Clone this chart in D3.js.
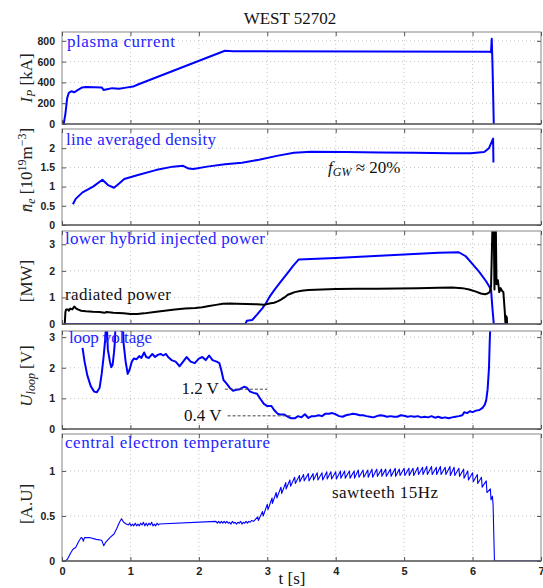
<!DOCTYPE html>
<html>
<head>
<meta charset="utf-8">
<script src="https://cdn.jsdelivr.net/npm/d3@7"></script>
<style>
  body { margin: 0; background: #fff; }
  .serif { font-family: "Liberation Serif", "DejaVu Serif", "Times New Roman", serif; }
  .tick-label { font-family: "Liberation Sans", Arial, sans-serif; font-weight: bold; font-size: 10.5px; fill: #222; }
</style>
</head>
<body>
<svg id="chart" width="543" height="588"></svg>
<script>
// time axis
const xTicks = [0, 1, 2, 3, 4, 5, 6, 7];

// [t (s), value]
const plasmaCurrent = [
  [0, 0], [0.025, 0], [0.05, 100], [0.076, 250], [0.1, 300], [0.137, 315], [0.177, 305],
  [0.228, 325], [0.29, 350], [0.354, 355], [0.58, 352], [0.607, 328], [0.66, 335],
  [0.733, 345], [0.835, 340], [0.936, 350], [1.04, 360], [1.11, 380], [2.38, 705],
  [2.5, 700], [4.5, 698], [6.25, 695], [6.27, 690], [6.28, 820], [6.29, 600], [6.31, 0]
];

const density = [
  [0.16, 0.54], [0.2, 0.68], [0.3, 0.85], [0.455, 1.0], [0.59, 1.18], [0.68, 1.03],
  [0.76, 0.97], [0.835, 1.08], [0.91, 1.2], [1.11, 1.3], [1.37, 1.43], [1.62, 1.52],
  [1.77, 1.54], [1.85, 1.47], [1.92, 1.46], [2.12, 1.52], [2.38, 1.58], [2.63, 1.62],
  [2.88, 1.7], [3.14, 1.8], [3.39, 1.88], [3.64, 1.91], [4.15, 1.9], [4.65, 1.89],
  [5.16, 1.88], [5.67, 1.87], [5.97, 1.87], [6.17, 1.9], [6.24, 2.0], [6.30, 2.25],
  [6.305, 1.63]
];

const lhPower = [
  [0.04, 0], [2.68, 0], [2.70, 0.12], [2.78, 0.15], [2.85, 0.35], [2.93, 0.6],
  [2.98, 0.78], [3.04, 1.05], [3.11, 1.3], [3.2, 1.6], [3.29, 1.9], [3.38, 2.2],
  [3.46, 2.43], [4.0, 2.48], [4.5, 2.55], [5.0, 2.62], [5.5, 2.68], [5.8, 2.7],
  [5.9, 2.55], [6.0, 2.25], [6.1, 1.95], [6.2, 1.6], [6.27, 1.3], [6.29, 0.6],
  [6.31, 0], [6.5, 0]
];

const radPower = [
  [0.04, 0], [0.05, 0.45], [0.06, 0.55], [0.09, 0.55], [0.1, 0.5], [0.12, 0.58],
  [0.15, 0.55], [0.18, 0.66], [0.2, 0.6], [0.23, 0.55], [0.28, 0.5], [0.35, 0.48],
  [0.45, 0.46], [0.55, 0.45], [0.62, 0.42], [0.65, 0.45], [0.75, 0.42], [0.9, 0.4],
  [1.0, 0.38], [1.1, 0.38], [1.2, 0.4], [1.35, 0.45], [1.5, 0.5], [1.65, 0.55],
  [1.8, 0.58], [1.95, 0.6], [2.05, 0.63], [2.15, 0.68], [2.25, 0.72], [2.35, 0.76],
  [2.45, 0.77], [2.55, 0.76], [2.7, 0.75], [2.85, 0.74], [2.95, 0.72], [3.0, 0.75],
  [3.05, 0.78], [3.1, 0.8], [3.15, 0.85], [3.2, 0.92], [3.25, 1.0], [3.3, 1.1],
  [3.35, 1.15], [3.4, 1.2], [3.5, 1.25], [3.6, 1.28], [3.8, 1.3], [4.0, 1.32],
  [4.3, 1.33], [4.6, 1.33], [4.9, 1.34], [5.2, 1.35], [5.5, 1.36], [5.7, 1.37],
  [5.85, 1.35], [5.95, 1.3], [6.05, 1.22], [6.12, 1.15], [6.18, 1.12], [6.22, 1.15],
  [6.25, 1.2], [6.27, 1.4], [6.29, 3.6], [6.31, 3.6], [6.32, 1.3], [6.33, 3.6],
  [6.34, 3.6], [6.35, 1.5], [6.37, 1.65], [6.39, 1.2], [6.41, 1.35], [6.43, 1.25],
  [6.45, 1.2], [6.47, 0.5], [6.48, 0.05], [6.49, 0.3], [6.5, 0.25], [6.505, 0]
];

const loopVoltage = [
  [0.30, 2.65], [0.33, 2.2], [0.37, 1.75], [0.42, 1.4], [0.47, 1.22], [0.51, 1.2],
  [0.55, 1.35], [0.58, 1.8], [0.61, 2.4], [0.63, 2.9], [0.645, 3.4], [0.655, 3.4],
  [0.67, 2.6], [0.70, 2.2], [0.72, 2.02], [0.74, 2.1], [0.76, 2.5], [0.775, 2.9],
  [0.78, 3.4], [0.89, 3.4], [0.90, 2.8], [0.93, 2.2], [0.96, 1.8], [0.99, 1.95],
  [1.02, 2.2], [1.05, 2.3], [1.09, 2.28], [1.13, 2.38], [1.16, 2.32], [1.20, 2.5],
  [1.23, 2.35], [1.27, 2.32], [1.32, 2.45], [1.36, 2.35], [1.40, 2.42], [1.44, 2.45],
  [1.48, 2.4], [1.52, 2.45], [1.55, 2.35], [1.60, 2.25], [1.66, 2.2], [1.72, 2.05],
  [1.77, 2.2], [1.82, 2.35], [1.88, 2.2], [1.94, 2.15], [2.00, 2.3], [2.05, 2.35],
  [2.10, 2.25], [2.15, 2.4], [2.20, 2.25], [2.26, 2.2], [2.30, 2.15], [2.33, 1.9],
  [2.36, 1.6], [2.40, 1.5], [2.45, 1.35], [2.50, 1.25], [2.55, 1.28], [2.60, 1.3],
  [2.66, 1.38], [2.70, 1.35], [2.75, 1.22], [2.80, 1.18], [2.85, 1.15], [2.90, 0.98],
  [2.95, 0.82], [3.00, 0.75], [3.06, 0.75], [3.10, 0.62], [3.15, 0.5], [3.20, 0.47],
  [3.25, 0.47], [3.30, 0.4], [3.35, 0.35], [3.40, 0.35], [3.45, 0.42], [3.50, 0.38],
  [3.55, 0.48], [3.60, 0.36], [3.65, 0.42], [3.70, 0.42], [3.75, 0.45], [3.80, 0.42],
  [3.85, 0.5], [3.90, 0.5], [3.95, 0.52], [4.00, 0.48], [4.05, 0.42], [4.10, 0.4],
  [4.15, 0.45], [4.20, 0.47], [4.25, 0.5], [4.30, 0.48], [4.35, 0.45], [4.40, 0.45],
  [4.45, 0.42], [4.50, 0.4], [4.55, 0.38], [4.60, 0.42], [4.65, 0.45], [4.70, 0.43],
  [4.75, 0.4], [4.80, 0.42], [4.85, 0.4], [4.90, 0.4], [4.95, 0.45], [5.00, 0.43],
  [5.05, 0.4], [5.10, 0.42], [5.15, 0.4], [5.20, 0.42], [5.25, 0.38], [5.30, 0.4],
  [5.35, 0.38], [5.40, 0.42], [5.45, 0.37], [5.50, 0.4], [5.55, 0.36], [5.60, 0.38],
  [5.65, 0.35], [5.70, 0.38], [5.75, 0.4], [5.80, 0.42], [5.85, 0.45], [5.88, 0.55],
  [5.92, 0.52], [5.96, 0.58], [6.00, 0.55], [6.05, 0.6], [6.10, 0.62], [6.15, 0.7],
  [6.18, 0.8], [6.20, 0.95], [6.22, 1.3], [6.24, 2.0], [6.25, 2.8], [6.26, 3.4]
];

const electronTemp = [
  [0, 0], [0.05, 0], [0.08, 0.02], [0.12, 0.08], [0.16, 0.13], [0.2, 0.15], [0.24, 0.21],
  [0.28, 0.26], [0.3, 0.25], [0.31, 0.22], [0.33, 0.26], [0.4, 0.26], [0.5, 0.24],
  [0.58, 0.23], [0.6, 0.19], [0.61, 0.17], [0.64, 0.21], [0.7, 0.26], [0.76, 0.3],
  [0.8, 0.36], [0.84, 0.43], [0.87, 0.47], [0.9, 0.43], [0.94, 0.41], [0.97, 0.40],
  [0.99, 0.42], [1.01, 0.39], [1.03, 0.41], [1.05, 0.39], [1.07, 0.42], [1.09, 0.39],
  [1.11, 0.41], [1.13, 0.39], [1.15, 0.42], [1.17, 0.40], [1.19, 0.43], [1.21, 0.39],
  [1.23, 0.42], [1.25, 0.39], [1.27, 0.42], [1.29, 0.40], [1.31, 0.43], [1.33, 0.39],
  [1.35, 0.41], [1.37, 0.39], [1.39, 0.42], [1.41, 0.40], [1.42, 0.41], [2.25, 0.44],
  [2.27, 0.42], [2.29, 0.44], [2.31, 0.42], [2.33, 0.44], [2.35, 0.42], [2.37, 0.44],
  [2.39, 0.42], [2.41, 0.44], [2.43, 0.42], [2.45, 0.43], [2.47, 0.41], [2.49, 0.44],
  [2.51, 0.42], [2.53, 0.43], [2.55, 0.41], [2.57, 0.43], [2.59, 0.42], [2.61, 0.44],
  [2.63, 0.41], [2.65, 0.43], [2.67, 0.42], [2.69, 0.44], [2.71, 0.42], [2.73, 0.44],
  [2.75, 0.43], [2.77, 0.45],
  // sawteeth
  [2.80, 0.44], [2.86, 0.49], [2.87, 0.45], [2.93, 0.55], [2.94, 0.50], [3.00, 0.63],
  [3.01, 0.57], [3.07, 0.70], [3.075, 0.64], [3.13, 0.76], [3.14, 0.70], [3.20, 0.82],
  [3.21, 0.75], [3.27, 0.87], [3.275, 0.80], [3.33, 0.90], [3.34, 0.83], [3.40, 0.93],
  [3.41, 0.86], [3.47, 0.95], [3.475, 0.88], [3.53, 0.96], [3.54, 0.89], [3.60, 0.97],
  [3.61, 0.89], [3.67, 0.97], [3.675, 0.90], [3.73, 0.98], [3.74, 0.90], [3.80, 0.98],
  [3.81, 0.90], [3.87, 0.99], [3.875, 0.91], [3.93, 0.99], [3.94, 0.91], [4.00, 0.99],
  [4.01, 0.91], [4.07, 1.00], [4.075, 0.92], [4.13, 1.00], [4.14, 0.92], [4.20, 1.00],
  [4.21, 0.92], [4.27, 1.00], [4.275, 0.92], [4.33, 1.01], [4.34, 0.93], [4.40, 1.01],
  [4.41, 0.93], [4.47, 1.01], [4.475, 0.93], [4.53, 1.02], [4.54, 0.93], [4.60, 1.02],
  [4.61, 0.94], [4.67, 1.02], [4.675, 0.94], [4.73, 1.02], [4.74, 0.94], [4.80, 1.02],
  [4.81, 0.94], [4.87, 1.03], [4.875, 0.94], [4.93, 1.02], [4.94, 0.95], [5.00, 1.03],
  [5.01, 0.95], [5.07, 1.03], [5.075, 0.95], [5.13, 1.03], [5.14, 0.95], [5.20, 1.04],
  [5.21, 0.96], [5.27, 1.04], [5.275, 0.96], [5.33, 1.05], [5.34, 0.96], [5.40, 1.05],
  [5.41, 0.96], [5.47, 1.04], [5.475, 0.96], [5.53, 1.05], [5.54, 0.96], [5.60, 1.04],
  [5.61, 0.96], [5.67, 1.05], [5.675, 0.95], [5.73, 1.04], [5.74, 0.95], [5.80, 1.03],
  [5.81, 0.94], [5.87, 1.02], [5.875, 0.92], [5.93, 1.00], [5.94, 0.90], [6.00, 0.98],
  [6.01, 0.88], [6.07, 0.96], [6.075, 0.86], [6.13, 0.93], [6.14, 0.82], [6.20, 0.89],
  [6.21, 0.76], [6.26, 0.80], [6.27, 0.68], [6.29, 0.72], [6.30, 0.62], [6.31, 0.3],
  [6.32, 0], [7.0, 0]
];

const ipTicks = [0, 200, 400, 600, 800];
const neTicks = [0, 0.5, 1, 1.5, 2];
const powerTicks = [0, 1, 2, 3];
const loopTicks = [0, 1, 2, 3];
const teTicks = [0, 0.5, 1];

const blue = "#0000ff";
const labelBlue = "#2424ff";

const svg = d3.select("#chart");
const x = d3.scaleLinear().domain([0, 7]).range([62, 541]);

const panels = [
  { top: 32, bottom: 124, max: 885, ticks: ipTicks, series: [{ data: plasmaCurrent, color: blue, w: 2 }] },
  { top: 129, bottom: 225, max: 2.5, ticks: neTicks, series: [{ data: density, color: blue, w: 2 }] },
  { top: 231, bottom: 324, max: 3.5, ticks: powerTicks, series: [{ data: lhPower, color: blue, w: 2 }, { data: radPower, color: "#000", w: 2 }] },
  { top: 331, bottom: 429, max: 3.2, ticks: loopTicks, series: [{ data: loopVoltage, color: blue, w: 2 }] },
  { top: 434, bottom: 561, max: 1.41, ticks: teTicks, series: [{ data: electronTemp, color: blue, w: 1.1 }] }
];

const fmt = (d) => (Number.isInteger(d) ? String(d) : d3.format(".1f")(d));

panels.forEach((p, i) => {
  const y = d3.scaleLinear().domain([0, p.max]).range([p.bottom, p.top]);
  p.y = y;
  const g = svg.append("g");

  // dotted grid
  g.selectAll(".gx").data(xTicks.slice(1, -1)).enter().append("line")
    .attr("x1", (d) => x(d)).attr("x2", (d) => x(d))
    .attr("y1", p.top).attr("y2", p.bottom)
    .attr("stroke", "#b8b8b8").attr("stroke-width", 0.8).attr("stroke-dasharray", "1,3");
  g.selectAll(".gy").data(p.ticks.filter((d) => d > 0)).enter().append("line")
    .attr("x1", x(0)).attr("x2", x(7))
    .attr("y1", (d) => y(d)).attr("y2", (d) => y(d))
    .attr("stroke", "#b8b8b8").attr("stroke-width", 0.8).attr("stroke-dasharray", "1,3");

  // clip
  svg.append("clipPath").attr("id", "clip" + i).append("rect")
    .attr("x", x(0)).attr("y", p.top).attr("width", x(7) - x(0)).attr("height", p.bottom - p.top);

  const line = d3.line().x((d) => x(d[0])).y((d) => y(d[1]));
  p.series.forEach((s) => {
    g.append("path").datum(s.data)
      .attr("clip-path", `url(#clip${i})`)
      .attr("fill", "none").attr("stroke", s.color)
      .attr("stroke-width", s.w).attr("stroke-linejoin", "round")
      .attr("d", line);
  });

  // frame
  g.append("rect").attr("x", x(0)).attr("y", p.top)
    .attr("width", x(7) - x(0)).attr("height", p.bottom - p.top)
    .attr("fill", "none").attr("stroke", "#9a9a9a").attr("stroke-width", 1.2);
  g.append("line").attr("x1", x(0)).attr("x2", x(7)).attr("y1", p.bottom).attr("y2", p.bottom)
    .attr("stroke", "#333").attr("stroke-width", 1.2);

  // inward ticks
  const yAxisL = d3.axisLeft(y).tickValues(p.ticks).tickSize(-4).tickPadding(7).tickFormat(fmt);
  const gl = g.append("g").attr("transform", `translate(${x(0)},0)`).call(yAxisL);
  gl.select(".domain").remove();
  gl.selectAll("line").attr("stroke", "#555");
  gl.selectAll("text").attr("class", "tick-label");

  const yAxisR = d3.axisRight(y).tickValues(p.ticks).tickSize(-4).tickFormat("");
  const gr = g.append("g").attr("transform", `translate(${x(7)},0)`).call(yAxisR);
  gr.select(".domain").remove();
  gr.selectAll("line").attr("stroke", "#555");

  const xAxisB = d3.axisBottom(x).tickValues(xTicks).tickSize(-4).tickPadding(6)
    .tickFormat(i === panels.length - 1 ? d3.format("d") : "");
  const gb = g.append("g").attr("transform", `translate(0,${p.bottom})`).call(xAxisB);
  gb.select(".domain").remove();
  gb.selectAll("line").attr("stroke", "#555");
  gb.selectAll("text").attr("class", "tick-label").style("font-size", "11px");

  const xAxisT = d3.axisTop(x).tickValues(xTicks).tickSize(-4).tickFormat("");
  const gt = g.append("g").attr("transform", `translate(0,${p.top})`).call(xAxisT);
  gt.select(".domain").remove();
  gt.selectAll("line").attr("stroke", "#555");
});

// title and x label
svg.append("text").attr("class", "serif").attr("x", 290).attr("y", 24).attr("text-anchor", "middle")
  .style("font-size", "17px").attr("fill", "#111").text("WEST 52702");
svg.append("text").attr("class", "serif").attr("x", 292).attr("y", 584).attr("text-anchor", "middle")
  .style("font-size", "17px").attr("fill", "#111").text("t [s]");

// panel captions
const caption = (txt, px, py, color, len) =>
  svg.append("text").attr("class", "serif").attr("x", px).attr("y", py).attr("fill", color)
    .style("font-size", "17px").attr("textLength", len).attr("lengthAdjust", "spacing").text(txt);
caption("plasma current", 67, 47, labelBlue, 108);
caption("line averaged density", 66, 145, labelBlue, 150);
caption("lower hybrid injected power", 65, 244, labelBlue, 200);
caption("radiated power", 65, 300, "#111", 106);
caption("loop voltage", 69, 343, labelBlue, 83);
caption("central electron temperature", 65, 448, labelBlue, 205);
caption("sawteeth 15Hz", 332, 498, "#111", 106);

// f_GW annotation
const fgw = svg.append("text").attr("class", "serif").attr("x", 328).attr("y", 173)
  .attr("fill", "#111").style("font-size", "17px");
fgw.append("tspan").style("font-style", "italic").text("f");
fgw.append("tspan").style("font-style", "italic").style("font-size", "12px").attr("dy", 3).text("GW");
fgw.append("tspan").attr("dy", -3).text(" \u2248 20%");

// loop voltage reference levels
const yl = panels[3].y;
const refLevels = [{ v: 1.3, label: "1.2 V", x1: 2.38, x2: 3.0 }, { v: 0.43, label: "0.4 V", x1: 2.42, x2: 3.35 }];
refLevels.forEach((r) => {
  svg.append("line").attr("x1", x(r.x1)).attr("x2", x(r.x2))
    .attr("y1", yl(r.v)).attr("y2", yl(r.v))
    .attr("stroke", "#444").attr("stroke-width", 1).attr("stroke-dasharray", "3,2");
  svg.append("text").attr("class", "serif").attr("x", x(r.x1) - 6).attr("y", yl(r.v) + 5)
    .attr("text-anchor", "end").attr("fill", "#111").style("font-size", "17px").text(r.label);
});

// rotated y labels
const ylab = (cy) => svg.append("text").attr("class", "serif")
  .attr("transform", `translate(32,${cy}) rotate(-90)`)
  .attr("text-anchor", "middle").attr("fill", "#222").style("font-size", "17px");

const l1 = ylab(78);
l1.append("tspan").style("font-style", "italic").text("I");
l1.append("tspan").style("font-style", "italic").style("font-size", "12px").attr("dy", 3).text("P");
l1.append("tspan").attr("dy", -3).text(" [kA]");

const l2 = ylab(170);
l2.append("tspan").style("font-style", "italic").text("n\u0304");
l2.append("tspan").style("font-style", "italic").style("font-size", "12px").attr("dy", 3).text("e");
l2.append("tspan").attr("dy", -3).text(" [10");
l2.append("tspan").style("font-size", "12px").attr("dy", -6).text("19");
l2.append("tspan").attr("dy", 6).text("m");
l2.append("tspan").style("font-size", "12px").attr("dy", -6).text("\u22123");
l2.append("tspan").attr("dy", 6).text("]");

ylab(281).text("[MW]");

const l4 = ylab(376);
l4.append("tspan").style("font-style", "italic").text("U");
l4.append("tspan").style("font-style", "italic").style("font-size", "12px").attr("dy", 3).text("loop");
l4.append("tspan").attr("dy", -3).text(" [V]");

ylab(504).text("[A.U]");
</script>
</body>
</html>
